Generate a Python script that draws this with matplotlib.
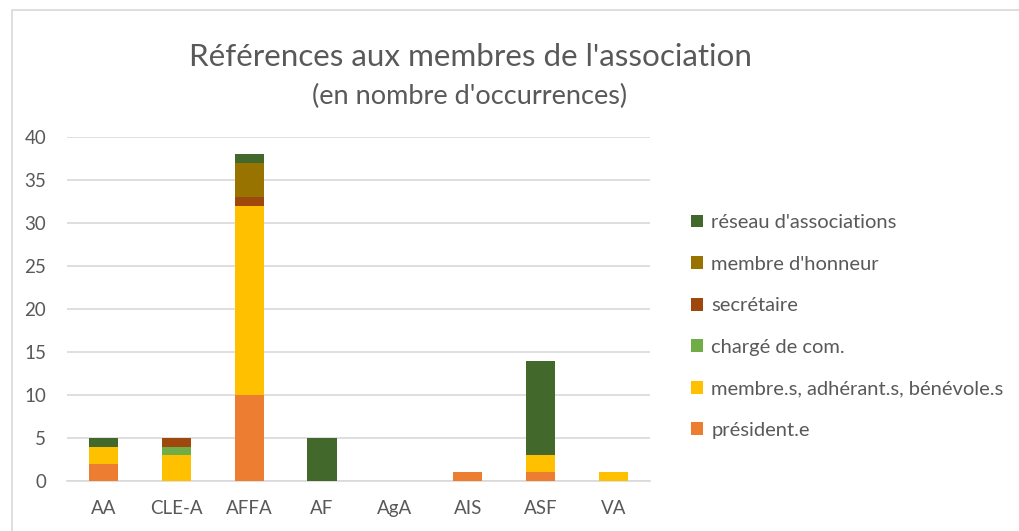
import matplotlib
matplotlib.use('Agg')
import matplotlib.pyplot as plt
import numpy as np
from matplotlib.patches import Rectangle

# data
categories = ['AA', 'CLE-A', 'AFFA', 'AF', 'AgA', 'AIS', 'ASF', 'VA']
president = [2, 0, 10, 0, 0, 1, 1, 0]
membres = [2, 3, 22, 0, 0, 0, 2, 1]
charge_com = [0, 1, 0, 0, 0, 0, 0, 0]
secretaire = [0, 1, 1, 0, 0, 0, 0, 0]
membre_honneur = [0, 0, 4, 0, 0, 0, 0, 0]
reseau = [1, 0, 1, 5, 0, 0, 11, 0]

series = [
    ('président.e', president, '#ED7D31'),
    ('membre.s, adhérant.s, bénévole.s', membres, '#FFC000'),
    ('chargé de com.', charge_com, '#70AD47'),
    ('secrétaire', secretaire, '#9E480E'),
    ("membre d'honneur", membre_honneur, '#997300'),
    ("réseau d'associations", reseau, '#43682B'),
]

plt.rcParams['font.family'] = ['Lato', 'DejaVu Sans']
grey = '#595959'

fig = plt.figure(figsize=(10.19, 5.31), dpi=100)
fig.patches.append(Rectangle((12 / 1019, -0.05), 1.1, 1 - 10 / 531 + 0.05,
                             transform=fig.transFigure, fill=False,
                             edgecolor='#d9d9d9', linewidth=1.2))
ax = fig.add_axes([67 / 1019, 1 - 481 / 531, (650 - 67) / 1019, (481 - 137) / 531])

x = np.arange(len(categories))
bottom = np.zeros(len(categories))
handles = []
for name, vals, col in series:
    vals = np.array(vals, dtype=float)
    b = ax.bar(x, vals, width=0.4, bottom=bottom, color=col, label=name, zorder=3)
    handles.append(b)
    bottom += vals

ax.set_xlim(-0.5, len(categories) - 0.5)
ax.set_ylim(0, 40)
ax.set_yticks(range(0, 41, 5))
ax.set_xticks(x)
ax.set_xticklabels(categories)
ax.tick_params(axis='both', length=0, labelsize=13.5, colors=grey)
ax.tick_params(axis='y', pad=15)
ax.tick_params(axis='x', pad=14)
ax.grid(axis='y', color='#d9d9d9', linewidth=1.2, zorder=0)
for s in ['top', 'right', 'left']:
    ax.spines[s].set_visible(False)
ax.spines['bottom'].set_color('#d9d9d9')
ax.spines['bottom'].set_linewidth(1.2)

fig.text(470 / 1019, 1 - 57 / 531, "Références aux membres de l'association",
         ha='center', va='center', fontsize=22.6, color=grey)
fig.text(470 / 1019, 1 - 96 / 531, "(en nombre d'occurrences)",
         ha='center', va='center', fontsize=19.5, color=grey)

leg = fig.legend(handles[::-1], [s[0] for s in series][::-1],
                 loc='upper left', bbox_to_anchor=(673 / 1019, 1 - 196 / 531),
                 frameon=False, fontsize=14.5, labelcolor=grey,
                 handlelength=0.6, handleheight=0.6, handletextpad=0.4,
                 labelspacing=1.22)

fig.savefig('out.png', dpi=100)
